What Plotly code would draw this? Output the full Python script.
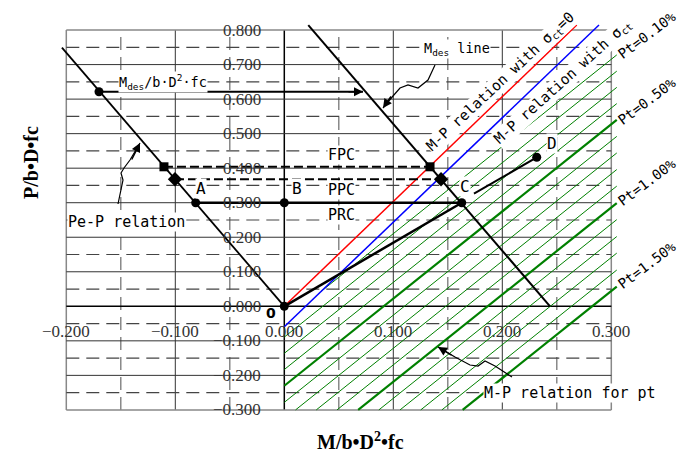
import plotly.graph_objects as go

W, H = 691, 452
OFF = 8  # the page body keeps an 8px margin

# ---- axis values (grid + tick labels)
M_TICKS = [-0.2, -0.1, 0.0, 0.1, 0.2, 0.3]
M_TICK_LABELS = ["−0.200", "−0.100", "0.000", "0.100", "0.200", "0.300"]
M_HALF = [-0.15, -0.05, 0.05, 0.15, 0.25]
P_TICKS = [-0.3, -0.2, -0.1, 0.0, 0.1, 0.2, 0.3, 0.4, 0.5, 0.6, 0.7, 0.8]
P_TICK_LABELS = ["−0.300", "−0.200", "−0.100", "0.000", "0.100", "0.200",
                 "0.300", "0.400", "0.500", "0.600", "0.700", "0.800"]
P_HALF = [-0.25, -0.15, -0.05, 0.05, 0.15, 0.25, 0.35, 0.45, 0.55, 0.65, 0.75]

# ---- relations
pe_m = [-0.204, 0.0]            # Pe-P relation
pe_p = [0.749, 0.0]
mdes_m = [0.022, 0.2438]        # Mdes line
mdes_p = [0.8145, 0.0]
red_m = [0.0, 0.2683]           # M-P relation with sigma_ct = 0
red_p = [0.0, 0.8145]
blue_m = [0.0, 0.2887]          # M-P relation with sigma_ct
blue_p = [-0.059, 0.8145]

mdes_level_m = [-0.170, 0.0722]
mdes_level_p = [0.6215, 0.6215]
fpc_m = [-0.1104, 0.1337]
fpc_p = [0.404, 0.404]
ppc_m = [-0.1003, 0.1438]
ppc_p = [0.368, 0.368]
prc_m = [-0.0813, 0.1628]
prc_p = [0.300, 0.300]
oc_m = [0.0, 0.1628]
oc_p = [0.0, 0.300]
cd_m = [0.174, 0.2316]
cd_p = [0.326, 0.4315]

dots_m = [-0.170, -0.0813, 0.0, 0.1628, 0.2316, 0.0]
dots_p = [0.6215, 0.300, 0.300, 0.300, 0.4315, 0.0]
squares_m = [-0.1104, 0.1337]
squares_p = [0.404, 0.404]
diamonds_m = [-0.1003, 0.1438]
diamonds_p = [0.368, 0.368]

# M-P relation for pt (hatch lines), value of P where each line meets the right edge
pt_percent = [0.1, 0.2, 0.3, 0.4, 0.5, 0.6, 0.7, 0.8, 0.9, 1.0, 1.1, 1.2, 1.3, 1.4, 1.5]
pt_p_edge = [0.728, 0.681, 0.634, 0.587, 0.540, 0.492, 0.444, 0.396, 0.348, 0.299,
             0.251, 0.202, 0.154, 0.105, 0.057]
pt_slope = 2.525
pt_m_edge = 0.305

# pixel <-> data (axes fill the whole figure)
X0_PX, X_SCALE = 284.3, 1090.0
Y0_PX, Y_SCALE = 306.3, 345.3
FW, FH = W - OFF, H - OFF
x_range = [(OFF - X0_PX) / X_SCALE, (W - X0_PX) / X_SCALE]
y_range = [(Y0_PX - H) / Y_SCALE, (Y0_PX - OFF) / Y_SCALE]


def px(x):
    return (x - OFF) / FW


def py(y):
    return 1 - (y - OFF) / FH


fig = go.Figure()

# grid
shapes = []
for m in M_TICKS:
    edge = m in (-0.2, 0.3)
    shapes.append(dict(type="line", x0=m, x1=m, y0=-0.3, y1=0.8, layer="below",
                       line=dict(color="#888" if edge else ("#000" if m == 0 else "#333"),
                                 width=1.5 if edge or m == 0 else 1)))
for m in M_HALF:
    shapes.append(dict(type="line", x0=m, x1=m, y0=-0.3, y1=0.8, layer="below",
                       line=dict(color="#777", width=1.3, dash="13px,7px")))
for p in P_TICKS:
    edge = p in (-0.3, 0.8)
    shapes.append(dict(type="line", x0=-0.2, x1=0.3, y0=p, y1=p, layer="below",
                       line=dict(color="#888" if edge else ("#000" if p == 0 else "#333"),
                                 width=1.5 if edge or p == 0 else 1)))
for p in P_HALF:
    shapes.append(dict(type="line", x0=-0.2, x1=0.3, y0=p, y1=p, layer="below",
                       line=dict(color="#444", width=1.2, dash="13px,7px")))

# pt hatch lines, clipped by the sigma_ct line, the left and the bottom edges
b_slope = (blue_p[1] - blue_p[0]) / (blue_m[1] - blue_m[0])
for pt, pe in zip(pt_percent, pt_p_edge):
    g0 = pe - pt_slope * pt_m_edge
    if g0 > blue_p[0]:
        m_start = (g0 - blue_p[0]) / (b_slope - pt_slope)
    else:
        m_start = max(0.0, (-0.3 - g0) / pt_slope)
    thick = round(pt * 10) % 5 == 0
    fig.add_trace(go.Scatter(
        x=[m_start, pt_m_edge], y=[g0 + pt_slope * m_start, pe], mode="lines",
        line=dict(color="#008000", width=2.2 if thick else 1), hoverinfo="skip"))

fig.add_trace(go.Scatter(x=red_m, y=red_p, mode="lines", line=dict(color="#ff0000", width=1.5)))
fig.add_trace(go.Scatter(x=blue_m, y=blue_p, mode="lines", line=dict(color="#0000ff", width=1.5)))
fig.add_trace(go.Scatter(x=pe_m, y=pe_p, mode="lines", line=dict(color="#000", width=1.8)))
fig.add_trace(go.Scatter(x=mdes_m, y=mdes_p, mode="lines", line=dict(color="#000", width=2)))
fig.add_trace(go.Scatter(x=mdes_level_m, y=mdes_level_p, mode="lines", line=dict(color="#000", width=2)))
fig.add_trace(go.Scatter(x=fpc_m, y=fpc_p, mode="lines", line=dict(color="#000", width=2, dash="9px,4px")))
fig.add_trace(go.Scatter(x=ppc_m, y=ppc_p, mode="lines", line=dict(color="#000", width=2, dash="9px,4px")))
fig.add_trace(go.Scatter(x=prc_m, y=prc_p, mode="lines", line=dict(color="#000", width=2.5)))
fig.add_trace(go.Scatter(x=oc_m, y=oc_p, mode="lines", line=dict(color="#000", width=2.5)))
fig.add_trace(go.Scatter(x=cd_m, y=cd_p, mode="lines", line=dict(color="#000", width=2)))

fig.add_trace(go.Scatter(x=dots_m, y=dots_p, mode="markers",
                         marker=dict(symbol="circle", size=9, color="#000")))
fig.add_trace(go.Scatter(x=squares_m, y=squares_p, mode="markers",
                         marker=dict(symbol="square", size=9, color="#000")))
fig.add_trace(go.Scatter(x=diamonds_m, y=diamonds_p, mode="markers",
                         marker=dict(symbol="diamond", size=11, color="#000")))

# wavy leader lines (pixel points)
leaders = [
    [(118, 204), (123, 180), (121, 173), (124, 168), (130, 160), (140, 143)],
    [(435, 65), (428, 80), (418, 88), (408, 85), (400, 88), (393, 96), (383, 108)],
    [(512, 377), (495, 366), (485, 361), (478, 366), (470, 365), (455, 357), (438, 347)],
]
for pts in leaders:
    path = "M " + " L ".join(f"{px(a):.5f},{py(b):.5f}" for a, b in pts)
    shapes.append(dict(type="path", path=path, xref="paper", yref="paper",
                       line=dict(color="#000", width=1.2)))

gothic = "DejaVu Sans Mono"
serif = "Liberation Serif"
ann = []
for m, lab in zip(M_TICKS, M_TICK_LABELS):
    ann.append(dict(x=m, y=-0.0736, text=lab, showarrow=False, yanchor="middle",
                    font=dict(family=serif, size=17, color="#333")))
for p, lab in zip(P_TICKS, P_TICK_LABELS):
    ann.append(dict(x=-0.0195, y=p, text=lab, showarrow=False, xanchor="right",
                    yanchor="middle", font=dict(family=serif, size=17, color="#333")))

labels = [
    ("M<sub>des</sub>/b·D<sup>2</sup>·fc", 118, 82, "left", 0, 13.5),
    ("M<sub>des</sub> line", 423, 49, "left", 0, 13.5),
    ("FPC", 341, 155, "center", 0, 15),
    ("PPC", 341, 190, "center", 0, 15),
    ("PRC", 341, 215, "center", 0, 15),
    ("A", 201, 188, "center", 0, 16),
    ("B", 297, 189, "center", 0, 16),
    ("C", 465, 186, "center", 0, 16),
    ("D", 552, 143, "center", 0, 16),
    ("Pe-P relation", 67, 222, "left", 0, 15),
    ("M-P relation for pt", 483, 393, "left", 0, 15),
    ("M-P relation with σ<sub>ct</sub>=0", 501, 82, "center", -43, 14.5),
    ("M-P relation with σ<sub>ct</sub>", 563, 82, "center", -42, 14.5),
    ("Pt=0.10%", 647, 35, "center", -37, 14),
    ("Pt=0.50%", 647, 101, "center", -37, 14),
    ("Pt=1.00%", 647, 182, "center", -37, 14),
    ("Pt=1.50%", 647, 265, "center", -37, 14),
]
for text, x, y, anchor, ang, size in labels:
    ann.append(dict(x=px(x), y=py(y), xref="paper", yref="paper", text=text,
                    showarrow=False, xanchor=anchor, yanchor="middle", textangle=ang,
                    bgcolor="white", borderpad=0,
                    font=dict(family=gothic, size=size, color="#000")))

ann.append(dict(x=px(271), y=py(313), xref="paper", yref="paper", text="<b>0</b>",
                showarrow=False, yanchor="middle",
                font=dict(family="DejaVu Sans", size=14, color="#000")))
ann.append(dict(x=px(18), y=py(163), xref="paper", yref="paper", text="<b>P/b•D•fc</b>",
                showarrow=False, textangle=-90, yanchor="middle",
                font=dict(family=serif, size=20, color="#000")))
ann.append(dict(x=px(360), y=py(441), xref="paper", yref="paper",
                text="<b>M/b•D<sup>2</sup>•fc</b>", showarrow=False, yanchor="middle",
                font=dict(family=serif, size=20, color="#000")))

# arrowheads
for tip, ax, ay in [((363, 91.7), -16, 0), ((140, 143), -9, 18),
                    ((383, 108), 9, -13), ((438, 347), 15, 9)]:
    ann.append(dict(x=px(tip[0]), y=py(tip[1]), xref="paper", yref="paper", text="",
                    showarrow=True, ax=ax, ay=ay, arrowhead=2, arrowsize=1.2,
                    arrowwidth=1.5, arrowcolor="#000"))

fig.update_layout(
    width=FW, height=FH, margin=dict(l=0, r=0, t=0, b=0),
    plot_bgcolor="white", paper_bgcolor="white", showlegend=False,
    xaxis=dict(range=x_range, visible=False, fixedrange=True),
    yaxis=dict(range=y_range, visible=False, fixedrange=True),
    shapes=shapes, annotations=ann,
)
fig.write_html("out.html")
